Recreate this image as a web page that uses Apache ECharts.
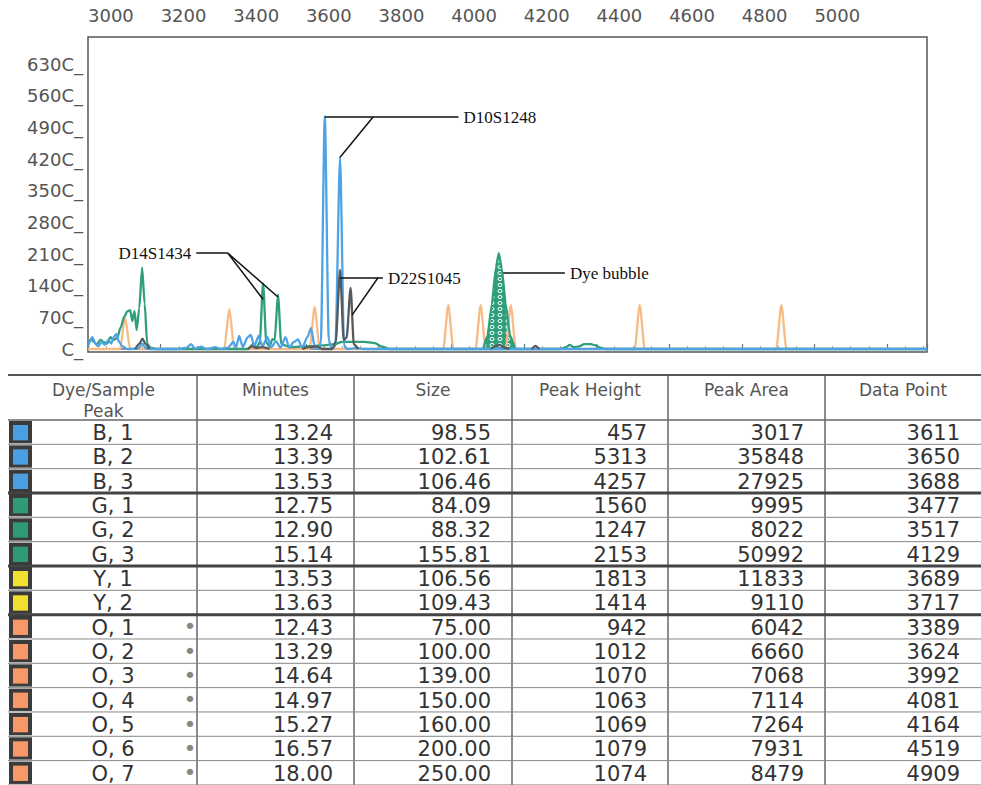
<!DOCTYPE html>
<html>
<head>
<meta charset="utf-8">
<script src="https://cdn.jsdelivr.net/npm/echarts@6/dist/echarts.min.js"></script>
<style>html,body{margin:0;padding:0;background:#fff;}#chart{width:981px;height:785px;}</style>
</head>
<body>
<div id="chart"></div>
<script>
// ---------------- DATA ----------------
// x: data point, y: fluorescence
const xTickLabels = ['3000','3200','3400','3600','3800','4000','4200','4400','4600','4800','5000'];
const yTickValues = [0,700,1400,2100,2800,3500,4200,4900,5600,6300];
const yTickLabels = ['C_','70C_','140C_','210C_','280C_','350C_','420C_','490C_','560C_','630C_'];

const blueTrace = [[3000,60],[3006,180],[3012,260],[3020,120],[3028,60],[3038,160],[3046,90],[3056,200],[3064,120],[3072,280],[3078,330],[3086,150],[3096,50],[3108,0],[3138,10],[3150,120],[3160,10],[3175,0],[3250,0],[3272,30],[3284,110],[3294,10],[3312,50],[3326,0],[3352,40],[3362,0],[3386,30],[3400,160],[3408,40],[3416,290],[3426,50],[3440,260],[3448,310],[3458,70],[3470,290],[3480,60],[3494,260],[3504,40],[3518,170],[3530,30],[3544,260],[3554,30],[3566,150],[3578,210],[3590,30],[3604,260],[3614,460],[3624,60],[3636,0],[3641,150],[3652,5150],[3663,200],[3671,0],[3681,60],[3694,4250],[3705,80],[3713,0],[3740,20],[3760,0],[4000,0],[4400,0],[5310,0]];
const greenTrace = [[3000,80],[3008,220],[3016,160],[3024,100],[3034,200],[3044,150],[3052,120],[3062,260],[3070,200],[3080,240],[3090,480],[3100,720],[3108,830],[3116,860],[3122,620],[3128,840],[3134,420],[3141,900],[3149,1800],[3156,1000],[3163,120],[3172,30],[3190,0],[3440,0],[3456,120],[3466,30],[3473,160],[3482,1450],[3491,140],[3500,60],[3508,220],[3514,200],[3523,1200],[3532,120],[3542,80],[3556,40],[3600,60],[3650,80],[3680,110],[3700,160],[3760,160],[3790,130],[3810,50],[3830,0],[4300,0],[4316,40],[4326,90],[4338,40],[4352,60],[4366,110],[4384,110],[4398,80],[4410,30],[4425,0],[5310,0]];
const dyeBubble = [[4088,0],[4100,300],[4112,1000],[4123,1800],[4131,2120],[4139,1800],[4150,1000],[4162,300],[4176,0]];
const orangeTrace = [[3000,0],[3088,0],[3102,700],[3116,0],[3375,0],[3389,880],[3403,0],[3610,0],[3624,930],[3638,0],[3978,0],[3992,970],[4006,0],[4067,0],[4081,970],[4095,0],[4150,0],[4164,970],[4178,0],[4505,0],[4519,970],[4533,0],[4895,0],[4909,970],[4923,0],[5310,0]];
const darkTrace = [[3130,0],[3142,120],[3150,230],[3158,120],[3168,0],[3175,null],[3440,0],[3452,60],[3464,20],[3480,40],[3500,0],[3550,null],[3590,0],[3606,40],[3630,60],[3645,0],[3672,0],[3682,150],[3694,1750],[3704,200],[3712,250],[3723,1350],[3732,100],[3744,0],[3760,null],[4110,0],[4122,70],[4134,90],[4146,30],[4160,0],[4180,null],[4222,0],[4232,70],[4242,0]];

// annotations (data coordinates)
const annotations = [
  {text:'D10S1248', label:[[3652,5130],[4020,5130]], legs:[[[3785,5130],[3694,4240]]]},
  {text:'D14S1434', label:[[3385,2120],[3298,2120]], legs:[[[3385,2120],[3482,1100]],[[3385,2120],[3523,1150]]]},
  {text:'D22S1045', label:[[3694,1570],[3812,1570]], legs:[[[3798,1570],[3727,750]]]},
  {text:'Dye bubble', label:[[4143,1680],[4313,1680]], legs:[]}
];

// table
const tableHeaders = ['Dye/Sample\nPeak','Minutes','Size','Peak Height','Peak Area','Data Point'];
const peakNames = ['B, 1','B, 2','B, 3','G, 1','G, 2','G, 3','Y, 1','Y, 2','O, 1','O, 2','O, 3','O, 4','O, 5','O, 6','O, 7'];
const minutes = ['13.24','13.39','13.53','12.75','12.90','15.14','13.53','13.63','12.43','13.29','14.64','14.97','15.27','16.57','18.00'];
const sizes = ['98.55','102.61','106.46','84.09','88.32','155.81','106.56','109.43','75.00','100.00','139.00','150.00','160.00','200.00','250.00'];
const peakHeights = ['457','5313','4257','1560','1247','2153','1813','1414','942','1012','1070','1063','1069','1079','1074'];
const peakAreas = ['3017','35848','27925','9995','8022','50992','11833','9110','6042','6660','7068','7114','7264','7931','8479'];
const dataPoints = ['3611','3650','3688','3477','3517','4129','3689','3717','3389','3624','3992','4081','4164','4519','4909'];

// ---------------- STYLE ----------------
const C = {blue:'#4da3e6', green:'#2e9e7b', orange:'#f7bb86', dark:'#555a5e'};
const swatch = {B:'#4b9fe0', G:'#2f9a78', Y:'#f2e030', O:'#f79866'};

function bubblePattern(){
  const c = document.createElement('canvas');
  c.width = 8; c.height = 6;
  const g = c.getContext('2d');
  g.fillStyle = C.green; g.fillRect(0,0,8,6);
  g.strokeStyle = '#ffffff'; g.lineWidth = 1;
  g.beginPath(); g.ellipse(4,3,2,1.6,0,0,Math.PI*2); g.stroke();
  return {image: c.toDataURL(), repeat:'repeat', imageWidth:8, imageHeight:6};
}

const markLineData = [];
annotations.forEach(a=>{
  markLineData.push([
    {coord:a.label[0], label:{show:true, position:'end', distance:5, formatter:a.text, color:'#111', fontFamily:'Liberation Serif', fontSize:17}},
    {coord:a.label[1]}
  ]);
  a.legs.forEach(l=>markLineData.push([{coord:l[0]},{coord:l[1]}]));
});

function lineSeries(name, data, color, extra){
  return Object.assign({
    name, type:'line', data, showSymbol:false, symbol:'none',
    smooth:0.25, smoothMonotone:'x', connectNulls:false,
    lineStyle:{color, width:2.3}, itemStyle:{color},
    animation:false, silent:true
  }, extra||{});
}

// ---------------- TABLE (graphic) ----------------
const colX = [10,197,354,512,668,825,981];
const tableTop = 375, rowTop0 = 420, rowH = 24.33;
const els = [];
const hdrFont = {fontFamily:'DejaVu Sans', fontSize:17, fill:'#555'};
const cellFont = {fontFamily:'DejaVu Sans', fontSize:21, fill:'#333'};
els.push({type:'line', shape:{x1:8,y1:tableTop,x2:981,y2:tableTop}, style:{stroke:'#555', lineWidth:2}});
els.push({type:'line', shape:{x1:8,y1:rowTop0,x2:981,y2:rowTop0}, style:{stroke:'#666', lineWidth:1.5}});
for (let i=1;i<colX.length-1;i++){
  els.push({type:'line', shape:{x1:colX[i],y1:tableTop,x2:colX[i],y2:785}, style:{stroke:'#666', lineWidth:1.5}});
}
tableHeaders.forEach((h,j)=>{
  const cx = (colX[j]+colX[j+1])/2;
  h.split('\n').forEach((t,k)=>{
    els.push({type:'text', x:cx, y:390+k*21, style:Object.assign({text:t, align:'center', verticalAlign:'middle'}, hdrFont)});
  });
});
const cols = [minutes, sizes, peakHeights, peakAreas, dataPoints];
peakNames.forEach((n,i)=>{
  const top = rowTop0 + rowH*i, bottom = top + rowH, cy = top + rowH/2 + 1;
  const dye = n[0];
  const next = peakNames[i+1];
  const thick = next && next[0] !== dye;
  els.push({type:'line', shape:{x1:8,y1:bottom,x2:981,y2:bottom}, style:{stroke: thick?'#444':'#888', lineWidth: thick?3:1}});
  els.push({type:'rect', shape:{x:9,y:top+1,width:23,height:rowH-2}, style:{fill:'#3b3b3b'}});
  els.push({type:'rect', shape:{x:13,y:top+5,width:15,height:rowH-9}, style:{fill:swatch[dye]}});
  els.push({type:'text', x:113, y:cy, style:Object.assign({text:n, align:'center', verticalAlign:'middle'}, cellFont)});
  if (dye === 'O') els.push({type:'text', x:190, y:cy-1, style:{text:'•', align:'center', verticalAlign:'middle', fontSize:22, fill:'#888', fontFamily:'DejaVu Sans'}});
  cols.forEach((arr,j)=>{
    els.push({type:'text', x:colX[j+2]-21, y:cy, style:Object.assign({text:arr[i], align:'right', verticalAlign:'middle'}, cellFont)});
  });
});

// ---------------- CHART ----------------
const chart = echarts.init(document.getElementById('chart'), null, {renderer:'svg'});
chart.setOption({
  animation:false,
  backgroundColor:'#fff',
  grid:{left:88, right:54, top:37, height:315, show:true, borderColor:'#555', borderWidth:1.5, backgroundColor:'transparent'},
  xAxis:{
    type:'value', position:'top', offset:4, min:3000, max:5310, interval:200,
    axisLine:{show:true, lineStyle:{color:'#667080', width:1.5}},
    axisTick:{show:true, length:5, lineStyle:{color:'#667080', width:1.2}},
    minorTick:{show:true, splitNumber:4, length:3, lineStyle:{color:'#9aa0a8'}},
    splitLine:{show:false},
    axisLabel:{align:'left', margin:9, color:'#555', fontSize:18, fontFamily:'DejaVu Sans',
      formatter:v=>{const s=String(v); return xTickLabels.indexOf(s)>=0?s:'';}}
  },
  yAxis:{
    type:'value', min:-66, max:6900,
    axisLine:{show:false}, axisTick:{show:false}, splitLine:{show:false},
    axisLabel:{customValues:yTickValues, margin:5, color:'#555', fontSize:18, fontFamily:'DejaVu Sans',
      verticalAlign:'middle', padding:[0,0,10,0],
      formatter:v=>{const i=yTickValues.indexOf(v); return i>=0?yTickLabels[i]:'';}}
  },
  series:[
    lineSeries('orange', orangeTrace, C.orange),
    lineSeries('green', greenTrace, C.green),
    lineSeries('dye bubble', dyeBubble, C.green, {smooth:0.15, areaStyle:{color:bubblePattern(), opacity:1}}),
    lineSeries('blue', blueTrace, C.blue),
    lineSeries('yellow', darkTrace, C.dark, {
      markLine:{silent:true, animation:false, symbol:['none','none'],
        lineStyle:{color:'#111', width:1.5, type:'solid'},
        label:{show:false}, emphasis:{disabled:true}, data:markLineData}
    })
  ],
  graphic:{elements:els}
});
</script>
</body>
</html>
